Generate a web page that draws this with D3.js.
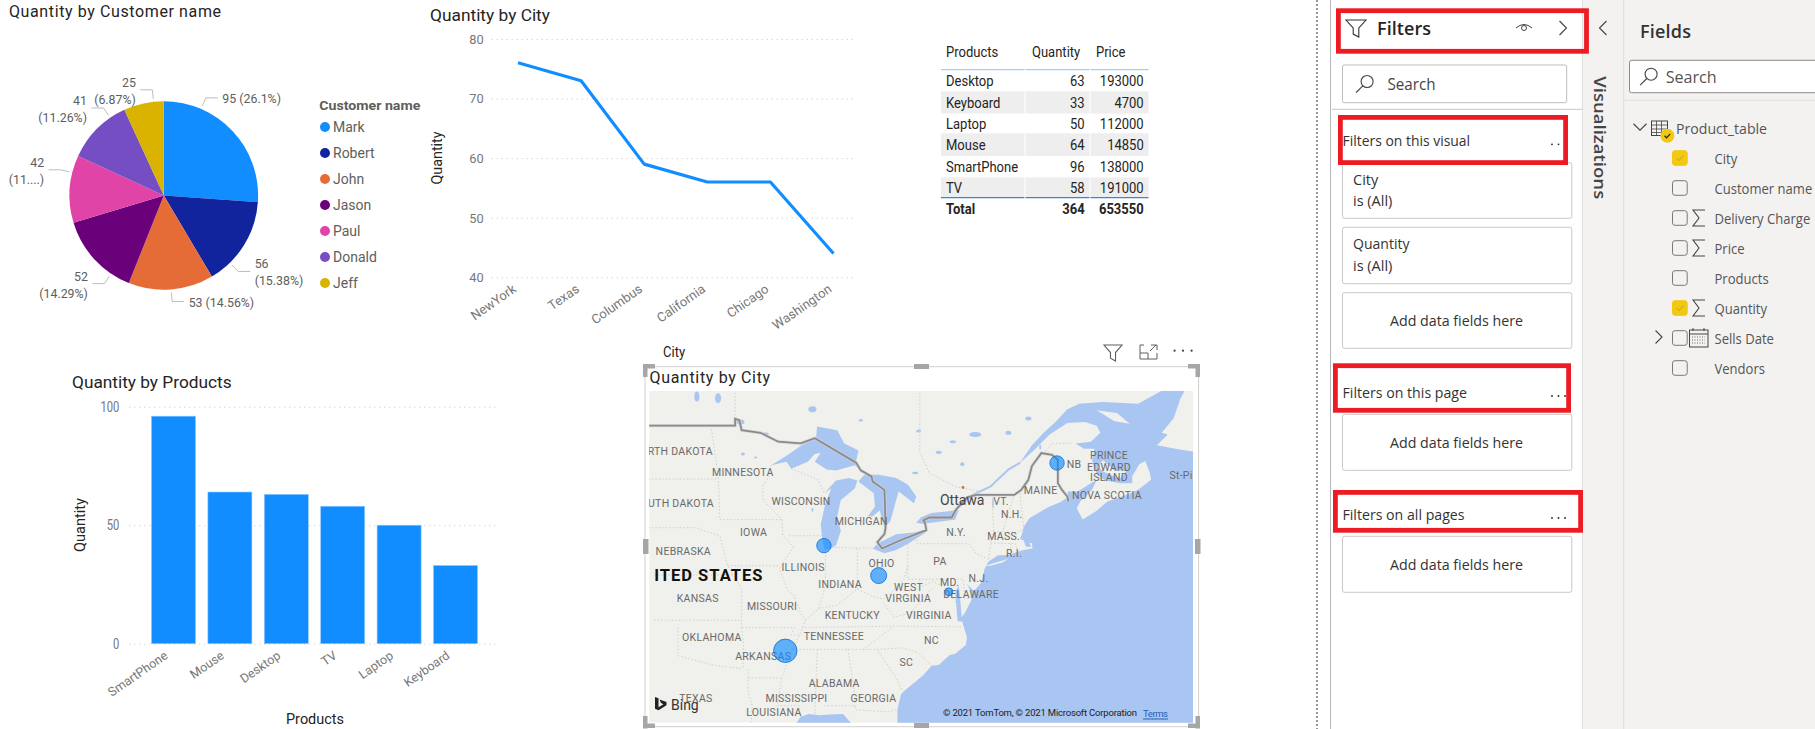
<!DOCTYPE html>
<html>
<head>
<meta charset="utf-8">
<script src="https://cdn.jsdelivr.net/npm/d3@7"></script>
<style>
  body { margin: 0; background: #fff; overflow: hidden; }
  text { font-family: Roboto, sans-serif; }
  .seg { font-family: "Open Sans", sans-serif; }
</style>
</head>
<body>
<div id="report"></div>
<script>
// pie
var customerNames = ["Mark", "Robert", "John", "Jason", "Paul", "Donald", "Jeff"];
var customerQuantity = [95, 56, 53, 52, 42, 41, 25];
var customerLabels = [["95 (26.1%)"], ["56", "(15.38%)"], ["53 (14.56%)"], ["52", "(14.29%)"], ["42", "(11....)"], ["41", "(11.26%)"], ["25", "(6.87%)"]];
var customerColors = ["#118dff", "#12239e", "#e66c37", "#6b007b", "#e044a7", "#744ec2", "#d9b300"];

// line
var cityNames = ["NewYork", "Texas", "Columbus", "California", "Chicago", "Washington"];
var cityQuantity = [76, 73, 59, 56, 56, 44];
var cityTicks = [40, 50, 60, 70, 80];

// bars
var productNames = ["SmartPhone", "Mouse", "Desktop", "TV", "Laptop", "Keyboard"];
var productQuantity = [96, 64, 63, 58, 50, 33];
var productTicks = [0, 50, 100];

// table
var tableProducts = ["Desktop", "Keyboard", "Laptop", "Mouse", "SmartPhone", "TV"];
var tableQuantity = [63, 33, 50, 64, 96, 58];
var tablePrice = [193000, 4700, 112000, 14850, 138000, 191000];
var tableTotal = ["Total", 364, 653550];

// map bubbles, only the cities that fall inside the visible map
var bubbleCities = ["Texas", "California", "Chicago", "Columbus", "Washington"];
var bubbleLonLat = [[-90.9, 34.9], [-67.87, 46.88], [-87.63, 41.88], [-82.99, 39.96], [-77.04, 38.9]];

// fields list
var fieldNames = ["City", "Customer name", "Delivery Charge", "Price", "Products", "Quantity", "Sells Date", "Vendors"];
var fieldChecked = [true, false, false, false, false, true, false, false];
var fieldIcon = ["", "", "sum", "sum", "", "sum", "date", ""];

// coastlines and borders, lon/lat
var atlantic = [[-81.4,29.5],[-81.4,30.7],[-81.1,31.8],[-80.9,32.0],[-79.9,32.7],[-79.2,33.2],[-78.5,33.85],[-77.9,33.9],[-77.0,34.6],[-76.5,34.7],[-75.6,35.3],[-75.5,35.8],[-75.9,36.9],[-76.3,36.95],[-76.4,37.9],[-76.5,38.9],[-76.2,39.3],[-76.1,38.6],[-75.95,37.2],[-75.6,37.6],[-75.1,38.4],[-75.1,38.8],[-75.5,39.4],[-74.9,38.95],[-74.3,39.5],[-74.0,40.4],[-73.7,40.85],[-72.9,41.25],[-71.9,41.3],[-71.4,41.45],[-70.7,41.6],[-69.95,41.7],[-70.0,42.05],[-70.2,42.05],[-70.05,41.8],[-70.5,41.8],[-70.7,42.2],[-71.0,42.3],[-70.8,42.7],[-70.7,43.05],[-70.2,43.6],[-69.8,43.75],[-69.0,44.1],[-68.5,44.3],[-67.6,44.55],[-67.0,44.85],[-66.95,45.2],[-66.1,45.2],[-65.0,45.7],[-64.5,45.9],[-64.9,45.3],[-65.9,44.6],[-66.2,44.2],[-65.7,43.5],[-64.6,44.0],[-63.6,44.6],[-62.0,45.0],[-61.0,45.3],[-59.9,45.9],[-60.0,46.3],[-60.4,47.0],[-60.9,46.8],[-61.5,46.1],[-61.5,45.7],[-62.5,45.7],[-63.8,45.85],[-64.5,46.2],[-64.9,47.0],[-64.7,47.7],[-65.6,47.7],[-66.3,48.0],[-65.0,48.1],[-64.2,48.6],[-64.5,49.0],[-65.5,49.2],[-67.0,49.15],[-68.5,48.5],[-69.7,47.7],[-71.0,46.9],[-70.0,47.9],[-69.0,48.6],[-68.0,49.2],[-67.0,49.9],[-66.0,50.2],[-64.0,50.3],[-61.0,50.2],[-59.0,50.9],[-58.5,51.2],[-54,51.2],[-54,29.5]];
var gulf = [[-90.2,29.4],[-89.6,30.2],[-88.9,30.4],[-88,30.3],[-87.2,30.35],[-86,30.4],[-85.3,29.7],[-85,29.4]];
var lakes = [
  [[-92.1,46.75],[-90.8,46.95],[-90.4,46.55],[-89,46.95],[-88.4,47.4],[-87.9,47.47],[-88.4,46.95],[-87.4,46.5],[-86.6,46.45],[-85,46.75],[-84.6,46.5],[-84.9,47.0],[-84.7,47.6],[-85.9,48.0],[-86.5,48.75],[-88.2,48.95],[-88.3,48.3],[-89.3,48.0],[-90.8,47.3]],
  [[-87.6,41.65],[-87.8,42.5],[-87.9,43.2],[-87.5,44.5],[-87.0,45.4],[-87.6,45.1],[-86.6,45.85],[-85.5,46.0],[-84.8,45.85],[-85.0,45.4],[-85.5,45.1],[-86.2,44.7],[-86.5,43.7],[-86.2,42.8],[-86.6,41.9],[-87.1,41.65]],
  [[-84.7,45.8],[-83.4,45.1],[-83.3,44.3],[-83.9,43.7],[-83.5,43.7],[-82.9,44.05],[-82.5,43.0],[-82.0,43.4],[-81.7,44.2],[-81.3,45.2],[-80.0,44.5],[-79.8,44.9],[-80.5,45.6],[-81.5,46.0],[-83.0,46.2],[-84.2,46.2]],
  [[-83.5,41.7],[-82.5,41.4],[-81.5,41.6],[-80.5,42.0],[-79.0,42.7],[-78.9,42.9],[-80.0,42.7],[-81.5,42.6],[-83.0,42.05]],
  [[-79.8,43.3],[-79.3,43.25],[-78,43.35],[-76.5,43.5],[-76.2,44.1],[-77.2,44.0],[-78.5,43.9],[-79.4,43.65]]
];
var smallLakes = [[-94.7,49.2,4,2.5],[-92.6,48.55,3.5,1.2],[-88.6,49.9,4,3],[-98.4,50.6,2.5,5],[-96.6,50.5,3,5],[-79.6,48.7,2.5,1.5],[-79.9,46.3,3,1.2],[-74.8,48.5,6,2.5],[-75.9,46.8,2,2],[-72.0,48.6,3,2],[-70.3,49.4,3,2],[-73.3,44.5,.8,5],[-84.5,49.3,2,1.2],[-76.7,48.1,3,1.5],[-77.9,47.5,3,1.5],[-69.3,47.8,1,2.5],[-93.4,47.2,1.5,1],[-94.5,47.4,2,1.5],[-88.6,44.1,1,2]];
var landPatches = [
  [[-59.4,47.9],[-58.5,48.5],[-59.0,48.6],[-58.0,49.4],[-57.4,50.5],[-56.8,51.2],[-54,51.2],[-54,47.3],[-56,47.5],[-57.5,47.65]],
  [[-64.4,46.65],[-64,47.05],[-63,46.45],[-62,46.45],[-62.5,46],[-63.2,46.15],[-64,46.4]],
  [[-64.5,49.85],[-62.8,49.7],[-61.7,49.1],[-63,49.25]],
  [[-74.0,40.6],[-72,41.05],[-72.5,40.8],[-73.5,40.6]]
];
var stLawrence = [[-76.3,44.2],[-75,45],[-73.5,45.5],[-72,46.5],[-71.0,46.9]];
var countryBorder = [[-103,49],[-95.15,49],[-95.15,49.38],[-94.8,49.3],[-94.6,48.75],[-93,48.6],[-91.5,48.1],[-89.6,48.0],[-88.4,48.3],[-84.9,46.9],[-84.5,46.45],[-83.6,46.1],[-83.5,45.8],[-82.5,45.3],[-82.4,43.0],[-82.5,42.6],[-83.1,42.1],[-82.7,41.7],[-81.2,42.2],[-78.95,42.85],[-79.05,43.27],[-79.2,43.45],[-78.7,43.63],[-76.8,43.63],[-76.45,44.1],[-75.5,44.85],[-74.7,45.0],[-71.5,45.0],[-70.9,45.3],[-70.3,45.9],[-70.0,46.7],[-69.2,47.45],[-68.3,47.35],[-67.8,47.07],[-67.8,45.7],[-67.45,45.3],[-67.0,44.9],[-66.9,44.6]];
var stateBorders = [
  [[-104,45.94],[-96.56,45.94]], [[-97.2,49],[-96.56,45.94],[-96.45,43.5]], [[-104,43],[-98.5,43],[-96.45,42.5],[-95.8,40.6],[-95.3,40]],
  [[-96.45,43.5],[-91.2,43.5]], [[-95.8,40.6],[-91.4,40.6]], [[-102,40],[-95.3,40],[-94.6,39.1],[-94.6,36.5]], [[-102,37],[-94.6,37]],
  [[-94.6,36.5],[-90.15,36.5],[-90.4,36],[-89.7,36]], [[-94.6,36.5],[-94.45,35.4],[-94.5,33.65]], [[-100,36.5],[-100,34.56],[-97,33.9],[-94.5,33.65]],
  [[-94.05,33.6],[-94.05,32],[-93.7,31],[-93.8,29.7]], [[-94.05,33],[-91.2,33]],
  [[-91.2,43.5],[-91.1,42.5],[-90.2,41.8],[-91.4,40.4],[-90.7,39],[-90.2,38.7],[-89.5,37.3],[-89.2,37],[-89.7,36],[-90.3,35],[-91.2,33],[-91.6,31],[-89.75,31],[-89.6,30.2]],
  [[-92.1,46.75],[-92.3,46.1],[-92.8,45.5],[-92.8,44.7],[-91.2,43.5]], [[-90.6,42.5],[-87.8,42.5]], [[-87.5,41.7],[-87.5,39.3],[-88.05,37.8]],
  [[-90.4,46.55],[-88.1,45.9],[-87.6,45.1]],
  [[-89.2,37],[-88.05,37.8],[-86.5,38],[-85.4,38.7],[-84.8,39.1],[-83.7,38.65],[-82.6,38.4],[-81.7,39.0],[-80.85,39.7],[-80.52,40.6],[-80.52,42]],
  [[-84.8,39.1],[-84.8,41.7]], [[-87,41.76],[-83.5,41.72]], [[-79.76,42.25],[-79.76,42],[-75.35,42],[-74.7,41.35],[-73.65,41]],
  [[-80.52,40.6],[-80.52,39.72],[-75.8,39.72],[-75.7,38.46],[-75.05,38.46]], [[-79.48,39.72],[-79.48,39.2],[-78.4,39.6],[-77.7,39.3],[-77.04,38.9],[-76.3,38]],
  [[-82.6,38.2],[-81.7,37.2],[-80.3,37.5],[-79.3,38.4],[-78.4,39.2]], [[-89.5,36.5],[-81.7,36.6],[-75.9,36.55]], [[-90.3,35],[-84.3,35],[-81.7,36.6]],
  [[-84.3,35],[-83.1,35],[-81,35.1],[-79.7,34.8],[-78.5,33.85]], [[-83.1,35],[-81.5,33],[-81,32.1]], [[-85.6,35],[-85.1,32.3],[-85,31]],
  [[-88.2,35],[-88.4,30.3]], [[-87.6,31],[-85,31],[-84.9,30.7],[-82.2,30.55],[-81.5,30.7]],
  [[-73.35,45],[-73.3,43.6],[-73.25,42.75],[-73.5,42.05],[-73.65,41]], [[-71.5,45],[-72.5,42.73]], [[-73.25,42.75],[-71.3,42.7],[-70.8,42.87]], [[-71.05,45.3],[-70.7,43.05]],
  [[-73.5,42.05],[-71.4,42],[-71.2,41.5]], [[-71.8,42.02],[-71.8,41.4]],
  [[-79.5,51],[-79.5,47.5],[-78.7,46.3],[-76.5,45.5],[-74.4,45.2]], [[-95.15,49.38],[-95.15,51]], [[-69,47.4],[-68.3,48],[-66.5,48]], [[-64.8,45.8],[-64,46]],[[-71.5,45],[-74.7,45]]
];
var mapLabels = [
  ["RTH DAKOTA",680.3,451.7],["MINNESOTA",742.8,472.3],["UTH DAKOTA",681,503.3],["WISCONSIN",801,501],["MICHIGAN",861.2,521.7],["IOWA",753.6,532.3],["NEBRASKA",683.3,551],["ILLINOIS",803.1,567.3],["INDIANA",840.1,584],["OHIO",881.6,563.3],["KANSAS",697.7,598.3],["MISSOURI",772,606.7],["KENTUCKY",852.3,615],["WEST",908.6,587.3],["VIRGINIA",908.2,598.3],["VIRGINIA",928.9,615],["MD.",949.7,582],["DELAWARE",971.1,594.3],["N.J.",978.5,578],["PA",940,561.3],["N.Y.",956,532.3],["MASS.",1003.7,536.3],["R.I.",1014,553],["VT.",1001,501.3],["N.H.",1011.8,514],["MAINE",1040.7,490.7],["NB",1074,464],["PRINCE",1109,455.7],["EDWARD",1109,467],["ISLAND",1109,477.3],["NOVA SCOTIA",1106.9,495],["St-Pi",1181,475],["OKLAHOMA",711.8,637.7],["TENNESSEE",833.8,636],["NC",931.5,640],["ARKANSAS",763.2,656.3],["SC",906.4,662.7],["ALABAMA",834.2,683.3],["TEXAS",695.9,698],["MISSISSIPPI",796.5,698],["GEORGIA",873.4,698],["LOUISIANA",773.9,712.3]
];

var svg = d3.select("#report").append("svg").attr("width", 1815).attr("height", 729);

// the screenshot is squeezed sideways, so glyphs get narrowed to the measured width
function squeeze(t, k) {
  t.attr("textLength", t.node().getComputedTextLength() * k).attr("lengthAdjust", "spacingAndGlyphs");
}

// small helper, text is vertically centred on y
function label(parent, x, y, str, o) {
  o = o || {};
  var t = parent.append("text").attr("x", x).attr("y", y).attr("dominant-baseline", "central")
    .attr("text-anchor", o.anchor || "start").attr("font-size", o.size || 12).attr("fill", o.fill || "#605e5c").text(str);
  if (o.weight) t.attr("font-weight", o.weight);
  if (o.cls) t.attr("class", o.cls);
  if (o.len) t.attr("textLength", o.len);
  if (o.glyphs) t.attr("lengthAdjust", "spacingAndGlyphs");
  if (o.squeeze) squeeze(t, o.squeeze);
  if (o.rotate !== undefined) t.attr("transform", "rotate(" + o.rotate + "," + x + "," + y + ")");
  return t;
}
function styleGrid(g, size, k) {
  g.select(".domain").remove();
  g.selectAll(".tick line").attr("stroke", "#c8c6c4").attr("stroke-dasharray", "1 4");
  g.selectAll(".tick text").attr("font-size", size).attr("fill", "#777").attr("font-family", "Roboto")
    .each(function() { squeeze(d3.select(this), k); });
}
function styleSlanted(g, size, dx) {
  g.select(".domain").remove();
  g.selectAll(".tick text").attr("font-size", size).attr("fill", "#777").attr("font-family", "Roboto")
    .attr("text-anchor", "end").attr("dy", 0).attr("y", 0).attr("dominant-baseline", "central")
    .attr("transform", "translate(" + dx + ",10) rotate(-35)");
}

// ---- pie ----
label(svg, 9, 11.5, "Quantity by Customer name", { size: 16, fill: "#252423", len: 212 });
var pieCx = 163.8, pieCy = 195.5, pieR = 94.3;
var pieData = d3.pie().sort(null)(customerQuantity);
var arc = d3.arc().innerRadius(0).outerRadius(pieR);
var pie = svg.append("g").attr("transform", "translate(" + pieCx + "," + pieCy + ")");
pie.selectAll("path").data(pieData).enter().append("path").attr("d", arc).attr("fill", function(d, i) { return customerColors[i]; });

// leader lines leave the slices where Power BI placed them, not at the middle
var leaderAngle = [23.3, 135.6, 175.5, 214, 284, 325.4, 353.8];
leaderAngle.forEach(function(deg, i) {
  var a = deg * Math.PI / 180;
  var p1 = d3.pointRadial(a, pieR + 3), p2 = d3.pointRadial(a, pieR + 12);
  var dir = deg < 180 ? 1 : -1;
  var p3 = [p2[0] + dir * 12, p2[1]];
  pie.append("path").attr("d", d3.line()([p1, p2, p3])).attr("fill", "none").attr("stroke", "#bdbdbd");
  var lines = customerLabels[i];
  lines.forEach(function(s, j) {
    var y = p2[1] + 1 + (j - (lines.length - 1) / 2) * 17;
    label(pie, p3[0] + dir * 4.5, y, s, { anchor: dir > 0 ? "start" : "end", size: 13, squeeze: .95 });
  });
});

label(svg, 319.3, 105, "Customer name", { size: 13.5, weight: 700, len: 101, glyphs: true });
var legendY = d3.scalePoint().domain(customerNames).range([127, 283]);
customerNames.forEach(function(n, i) {
  svg.append("circle").attr("cx", 325).attr("cy", legendY(n)).attr("r", 5).attr("fill", customerColors[i]);
  label(svg, 333, legendY(n), n, { size: 14 });
});

// ---- line ----
label(svg, 430, 15, "Quantity by City", { size: 17, fill: "#252423", len: 120, glyphs: true });
var lineX = d3.scalePoint().domain(cityNames).range([518, 833.5]);
var lineY = d3.scaleLinear().domain([40, 80]).range([277.3, 39]);
svg.append("g").attr("transform", "translate(491.7,0)")
  .call(d3.axisLeft(lineY).tickValues(cityTicks).tickSize(-362.3).tickPadding(8))
  .call(styleGrid, 13.5, .95);
svg.append("g").attr("transform", "translate(0,277.3)")
  .call(d3.axisBottom(lineX).tickSize(0))
  .call(styleSlanted, 13, -4);
label(svg, 437, 158, "Quantity", { anchor: "middle", size: 15, fill: "#252423", rotate: -90, len: 53, glyphs: true });
svg.append("path").datum(cityQuantity)
  .attr("fill", "none").attr("stroke", "#118dff").attr("stroke-width", 3.2).attr("stroke-linejoin", "round")
  .attr("d", d3.line().x(function(d, i) { return lineX(cityNames[i]); }).y(function(d) { return lineY(d); }));

// ---- table ----
var rowEdges = [69.7, 91.3, 113.3, 133.3, 155.7, 177.3, 197.7];
var tableText = { size: 15, fill: "#252423", squeeze: .867 };
function cell(x, y, s, anchor, weight) {
  label(table, x, y, s, Object.assign({}, tableText, { anchor: anchor, weight: weight }));
}
var table = svg.append("g");
tableProducts.forEach(function(p, i) {
  var mid = (rowEdges[i] + rowEdges[i + 1]) / 2 + .5;
  if (i % 2 == 1) table.append("rect").attr("x", 941).attr("y", rowEdges[i]).attr("width", 207.5).attr("height", rowEdges[i + 1] - rowEdges[i]).attr("fill", "#eeeeee");
  else if (i > 0) table.append("line").attr("x1", 941).attr("x2", 1148.5).attr("y1", rowEdges[i] - .5).attr("y2", rowEdges[i] - .5).attr("stroke", "#eeeeee");
  cell(946, mid, p);
  cell(1084.6, mid, tableQuantity[i], "end");
  cell(1143.7, mid, tablePrice[i], "end");
});
cell(946, 51.7, "Products");
cell(1032, 51.7, "Quantity");
cell(1096, 51.7, "Price");
table.append("line").attr("x1", 941).attr("x2", 1148.5).attr("y1", 69.7).attr("y2", 69.7).attr("stroke", "#9fd0fb").attr("stroke-width", 1.2);
table.append("line").attr("x1", 941).attr("x2", 1148.5).attr("y1", 197.7).attr("y2", 197.7).attr("stroke", "#2a8be0").attr("stroke-width", 1.2);
[1025, 1090].forEach(function(x) {
  table.append("line").attr("x1", x).attr("x2", x).attr("y1", 68).attr("y2", 199).attr("stroke", "#fff").attr("stroke-width", 1);
});
cell(946, 209.3, tableTotal[0], "start", 700);
cell(1084.6, 209.3, tableTotal[1], "end", 700);
cell(1143.7, 209.3, tableTotal[2], "end", 700);

// ---- bars ----
label(svg, 72, 382.3, "Quantity by Products", { size: 17, fill: "#252423", len: 159.6, glyphs: true });
var barX = d3.scaleBand().domain(productNames).range([145.3, 483.7]).paddingInner(0.22).paddingOuter(0.11);
var barY = d3.scaleLinear().domain([0, 100]).range([643.7, 406.7]);
svg.append("g").attr("transform", "translate(129.3,0)")
  .call(d3.axisLeft(barY).tickValues(productTicks).tickSize(-367).tickPadding(10))
  .call(styleGrid, 14, .8);
svg.selectAll(".bar").data(productQuantity).enter().append("rect").attr("class", "bar")
  .attr("x", function(d, i) { return barX(productNames[i]); })
  .attr("width", barX.bandwidth())
  .attr("y", function(d) { return barY(d); })
  .attr("height", function(d) { return barY(0) - barY(d); })
  .attr("fill", "#118dff").attr("stroke", "#8cc8ff").attr("stroke-width", 0.6);
svg.append("g").attr("transform", "translate(0,643.7)")
  .call(d3.axisBottom(barX).tickSize(0))
  .call(styleSlanted, 12.5, -7.5);
label(svg, 79.6, 525, "Quantity", { anchor: "middle", size: 15, fill: "#252423", rotate: -90, len: 54, glyphs: true });
label(svg, 315, 719.3, "Products", { anchor: "middle", size: 15, fill: "#252423", len: 58, glyphs: true });

// ---- map ----
label(svg, 663, 351.7, "City", { size: 14, fill: "#252423", squeeze: .93 });
var mapW = 1193 - 649.2, mapH = 722.7 - 391;
var defs = svg.append("defs");
defs.append("clipPath").attr("id", "mapClip").append("rect").attr("x", 649.2).attr("y", 391).attr("width", mapW).attr("height", mapH);
var projection = d3.geoMercator().scale(676).translate([1857.8, 1090.7]);
var geoLine = d3.line().x(function(p) { return projection(p)[0]; }).y(function(p) { return projection(p)[1]; });
var map = svg.append("g").attr("clip-path", "url(#mapClip)");
var waterColor = "#a9c5f1";
map.append("rect").attr("x", 649.2).attr("y", 391).attr("width", mapW).attr("height", mapH).attr("fill", "#f0f0ec");
[atlantic, gulf].concat(lakes).forEach(function(poly) {
  map.append("path").attr("d", geoLine(poly) + "Z").attr("fill", waterColor);
});
landPatches.forEach(function(poly) {
  map.append("path").attr("d", geoLine(poly) + "Z").attr("fill", "#f0f0ec");
});
map.append("path").attr("d", geoLine(stLawrence)).attr("fill", "none").attr("stroke", waterColor).attr("stroke-width", 2);
smallLakes.forEach(function(l) {
  var p = projection(l);
  map.append("ellipse").attr("cx", p[0]).attr("cy", p[1]).attr("rx", l[2]).attr("ry", l[3]).attr("fill", waterColor);
});
stateBorders.forEach(function(b) {
  map.append("path").attr("d", geoLine(b)).attr("fill", "none").attr("stroke", "#d0d0cb").attr("stroke-width", 1).attr("stroke-dasharray", "1.5 2");
});
map.append("path").attr("d", geoLine(countryBorder)).attr("fill", "none").attr("stroke", "#d4d4d4").attr("stroke-width", 3.4).attr("opacity", .7);
map.append("path").attr("d", geoLine(countryBorder)).attr("fill", "none").attr("stroke", "#8a8a8a").attr("stroke-width", 1.8);

mapLabels.forEach(function(l) {
  label(map, l[1], l[2], l[0], { anchor: "middle", size: 10.5, fill: "#6a6a6a" }).attr("letter-spacing", .3);
});
label(map, 708.8, 575, "ITED STATES", { anchor: "middle", size: 16.5, weight: 700, fill: "#111" }).attr("letter-spacing", 1);
label(map, 962.2, 500, "Ottawa", { anchor: "middle", size: 14, fill: "#444" });
map.append("circle").attr("cx", 963).attr("cy", 487.5).attr("r", 1.4).attr("fill", "#c8743a");

// bubble size follows the quantity of the city
var bubbleR = d3.scaleLinear().domain([44, 73]).range([4, 11.7]);
bubbleCities.forEach(function(c, i) {
  var p = projection(bubbleLonLat[i]);
  map.append("circle").attr("cx", p[0]).attr("cy", p[1]).attr("r", bubbleR(cityQuantity[cityNames.indexOf(c)]))
    .attr("fill", "#118dff").attr("fill-opacity", .65).attr("stroke", "#0f6fd0").attr("stroke-width", .8);
});

// bing mark and attribution
map.append("path").attr("d", "M655,697 l3.5,1.2 v9 l5,-3 l-2.5,-1.2 l-1.5,-3.5 l7,2.6 v3.2 l-8,5 l-3.5,-1.5 Z").attr("fill", "#222");
label(map, 671, 705, "Bing", { size: 14, fill: "#333" });
label(map, 943, 712.7, "© 2021 TomTom, © 2021 Microsoft Corporation", { size: 9.5, fill: "#222", len: 194 });
label(map, 1143, 713, "Terms", { size: 9.5, fill: "#2a5db0", len: 25 }).attr("text-decoration", "underline");

// selection frame
svg.append("rect").attr("x", 645).attr("y", 366.7).attr("width", 553.6).attr("height", 360).attr("fill", "none").attr("stroke", "#d0d0d0").attr("stroke-width", 1);
var handle = svg.append("g").attr("fill", "#a6a6a6");
[[914, 364, 15, 5], [914, 723, 15, 5], [643, 539, 5.5, 15], [1195, 539, 5.5, 15],
 [643, 364, 12, 4.5], [643, 364, 4.5, 13], [1188, 364, 12, 4.5], [1195.5, 364, 4.5, 13],
 [643, 723.5, 12, 4.5], [643, 716, 4.5, 12.5], [1188, 723.5, 12, 4.5], [1195.5, 716, 4.5, 12.5]].forEach(function(h) {
  handle.append("rect").attr("x", h[0]).attr("y", h[1]).attr("width", h[2]).attr("height", h[3]);
});
label(svg, 649.5, 377.7, "Quantity by City", { size: 16, fill: "#252423", len: 120.6 });

// visual header icons
function funnel(parent, x, y, w, h, col) {
  parent.append("path").attr("d", "M" + x + "," + y + " h" + w + " l" + (-w * .36) + "," + (h * .47) + " v" + (h * .53) + " l" + (-w * .28) + "," + (-h * .17) + " v" + (-h * .36) + " Z")
    .attr("fill", "none").attr("stroke", col).attr("stroke-width", 1.1);
}
funnel(svg, 1104, 345, 18, 16, "#605e5c");
svg.append("path").attr("d", "M1140,345 h4 M1140,345 v14 h17 v-6 M1140,353 h8 v6 M1150,351 l6,-6 M1151,345 h6 v5").attr("fill", "none").attr("stroke", "#605e5c").attr("stroke-width", 1);
[1174.6, 1183, 1191.6].forEach(function(x) { svg.append("circle").attr("cx", x).attr("cy", 350.7).attr("r", 1.1).attr("fill", "#444"); });

// ---- right hand panes ----
var pane = svg.append("g");
pane.append("line").attr("x1", 1317).attr("x2", 1317).attr("y1", 0).attr("y2", 729).attr("stroke", "#555").attr("stroke-width", 1.2).attr("stroke-dasharray", "2 2");
pane.append("rect").attr("x", 1582.4).attr("y", 0).attr("width", 233).attr("height", 729).attr("fill", "#f3f2f1");
pane.append("line").attr("x1", 1330.5).attr("x2", 1330.5).attr("y1", 0).attr("y2", 729).attr("stroke", "#b5b5b5");
pane.append("line").attr("x1", 1582.4).attr("x2", 1582.4).attr("y1", 0).attr("y2", 729).attr("stroke", "#dcdcdc");
pane.append("line").attr("x1", 1623.7).attr("x2", 1623.7).attr("y1", 0).attr("y2", 729).attr("stroke", "#dcdcdc");
pane.append("line").attr("x1", 1332).attr("x2", 1582.4).attr("y1", 109.3).attr("y2", 109.3).attr("stroke", "#c8c6c4");
pane.append("line").attr("x1", 1624).attr("x2", 1815).attr("y1", 100.3).attr("y2", 100.3).attr("stroke", "#e1dfdd");

function chevron(parent, x, y, dir, s) {
  var d = dir == "right" ? "M" + (x - s / 2) + "," + (y - s) + " L" + (x + s / 2) + "," + y + " L" + (x - s / 2) + "," + (y + s)
    : dir == "left" ? "M" + (x + s / 2) + "," + (y - s) + " L" + (x - s / 2) + "," + y + " L" + (x + s / 2) + "," + (y + s)
    : "M" + (x - s) + "," + (y - s / 2) + " L" + x + "," + (y + s / 2) + " L" + (x + s) + "," + (y - s / 2);
  parent.append("path").attr("d", d).attr("fill", "none").attr("stroke", "#444").attr("stroke-width", 1.1);
}
function magnifier(parent, cx, cy) {
  parent.append("circle").attr("cx", cx + 2.5).attr("cy", cy - 2.5).attr("r", 6).attr("fill", "none").attr("stroke", "#444").attr("stroke-width", 1.1);
  parent.append("line").attr("x1", cx - 1.8).attr("y1", cy + 1.8).attr("x2", cx - 8.5).attr("y2", cy + 8.5).attr("stroke", "#444").attr("stroke-width", 1.1);
}
function card(y0, y1) {
  pane.append("rect").attr("x", 1342.5).attr("y", y0).attr("width", 229.3).attr("height", y1 - y0).attr("rx", 2).attr("fill", "#fff").attr("stroke", "#c8c8c8");
}
function filterDots(x, y) {
  [0, 6.5, 13].forEach(function(d) { pane.append("circle").attr("cx", x + d).attr("cy", y).attr("r", .9).attr("fill", "#222"); });
}

// filters pane
funnel(pane, 1346, 20, 20, 17, "#333");
label(pane, 1377, 28, "Filters", { size: 18, weight: 600, fill: "#252423", cls: "seg", len: 54 });
pane.append("path").attr("d", "M1516,28 q8,-7 16,0").attr("fill", "none").attr("stroke", "#444").attr("stroke-width", 1);
pane.append("circle").attr("cx", 1524).attr("cy", 28).attr("r", 2.5).attr("fill", "none").attr("stroke", "#444");
chevron(pane, 1563, 28, "right", 7);
chevron(pane, 1603, 28, "left", 7);
pane.append("rect").attr("x", 1342.5).attr("y", 65).attr("width", 224.2).attr("height", 37.7).attr("rx", 2).attr("fill", "#fff").attr("stroke", "#bdbdbd");
magnifier(pane, 1364.6, 84);
label(pane, 1387.5, 84, "Search", { size: 16, cls: "seg", fill: "#444", len: 48, glyphs: true });

card(162.7, 218.3); card(227.3, 283.7); card(292.7, 348.3); card(414.3, 470.3); card(536.3, 592.3);
label(pane, 1353, 179, "City", { size: 14.5, cls: "seg", fill: "#333" });
label(pane, 1353, 200.7, "is (All)", { size: 14.5, cls: "seg", fill: "#333" });
label(pane, 1353, 243.7, "Quantity", { size: 14.5, cls: "seg", fill: "#333", len: 56.5, glyphs: true });
label(pane, 1353, 265.7, "is (All)", { size: 14.5, cls: "seg", fill: "#333" });
[320.7, 442.7, 564.3].forEach(function(y) {
  label(pane, 1456.5, y, "Add data fields here", { size: 14.5, anchor: "middle", cls: "seg", fill: "#333", len: 133, glyphs: true });
});
label(pane, 1342.5, 140.7, "Filters on this visual", { size: 14.5, cls: "seg", fill: "#333", len: 127.6, glyphs: true });
label(pane, 1342.5, 392.7, "Filters on this page", { size: 14.5, cls: "seg", fill: "#333", len: 124.5, glyphs: true });
label(pane, 1342.5, 514.7, "Filters on all pages", { size: 14.5, cls: "seg", fill: "#333", len: 122, glyphs: true });
filterDots(1552, 144.3); filterDots(1552, 396); filterDots(1552, 518);

// red call-out boxes on top of the pane
[[1336, 8.3, 252.9, 45.4], [1338, 115, 230, 50], [1333, 363.3, 238, 49.4], [1333, 490, 250, 42.7]].forEach(function(b) {
  pane.append("rect").attr("x", b[0] + 2.4).attr("y", b[1] + 2.4).attr("width", b[2] - 4.8).attr("height", b[3] - 4.8)
    .attr("fill", "none").attr("stroke", "#ed1c24").attr("stroke-width", 4.8);
});

// visualizations strip
label(pane, 1600.8, 137.7, "Visualizations", { size: 17, weight: 600, anchor: "middle", cls: "seg", fill: "#444", rotate: 90, len: 123, glyphs: true });

// fields pane
label(pane, 1640, 31, "Fields", { size: 18, weight: 600, cls: "seg", fill: "#333", len: 51 });
pane.append("rect").attr("x", 1629.5).attr("y", 60.3).attr("width", 200).attr("height", 32.4).attr("rx", 2).attr("fill", "#fff").attr("stroke", "#8a8886");
magnifier(pane, 1648.6, 76.7);
label(pane, 1665.7, 77, "Search", { size: 16, cls: "seg", fill: "#555", len: 51, glyphs: true });

chevron(pane, 1640, 127, "down", 6.5);
// table glyph with the yellow badge
pane.append("rect").attr("x", 1651.5).attr("y", 121).attr("width", 16).attr("height", 14.5).attr("fill", "none").attr("stroke", "#444");
pane.append("path").attr("d", "M1651.5,125 h16 M1651.5,129 h16 M1651.5,132.5 h16 M1656.5,121 v14.5 M1661.5,121 v14.5").attr("stroke", "#444").attr("stroke-width", .8);
pane.append("circle").attr("cx", 1667.4).attr("cy", 135.7).attr("r", 7).attr("fill", "#f2c811");
pane.append("path").attr("d", "M1664.6,135.7 l2,2.2 l3.6,-4").attr("fill", "none").attr("stroke", "#222").attr("stroke-width", 1.3);
label(pane, 1676, 128.3, "Product_table", { size: 14.5, cls: "seg", fill: "#555", len: 91, glyphs: true });

var fieldY = d3.scalePoint().domain(fieldNames).range([158, 368]);
fieldNames.forEach(function(f, i) {
  var y = fieldY(f);
  pane.append("rect").attr("x", 1672.5).attr("y", y - 7.3).attr("width", 14.7).attr("height", 14.6).attr("rx", 2.5)
    .attr("fill", fieldChecked[i] ? "#f2c811" : "none").attr("stroke", fieldChecked[i] ? "#f2c811" : "#777");
  if (fieldChecked[i]) pane.append("path").attr("d", "M" + 1676.5 + "," + y + " l2.5,2.5 l4.5,-5").attr("fill", "none").attr("stroke", "#c9a50e");
  if (fieldIcon[i] == "sum") {
    pane.append("path").attr("d", "M1705,"+(y-8)+" h-12 l6,8 l-6,8 h12").attr("fill", "none").attr("stroke", "#444").attr("stroke-width", 1.1);
  }
  if (fieldIcon[i] == "date") {
    pane.append("rect").attr("x", 1689.5).attr("y", y - 8).attr("width", 18.5).attr("height", 17).attr("fill", "none").attr("stroke", "#444");
    pane.append("path").attr("d", "M1689.5,"+(y-4)+" h18.5 M1693,"+(y-10)+" v3 M1704,"+(y-10)+" v3").attr("stroke", "#444");
    pane.append("path").attr("d", "M1692,"+(y-1)+" h13 M1692,"+(y+2)+" h13 M1692,"+(y+5)+" h13").attr("stroke", "#666").attr("stroke-dasharray", "1 1.5");
  }
  label(pane, 1714.5, y, f, { size: 14.5, cls: "seg", fill: "#555", squeeze: .9 });
});
chevron(pane, 1658.8, 337, "right", 6.5);
</script>
</body>
</html>
